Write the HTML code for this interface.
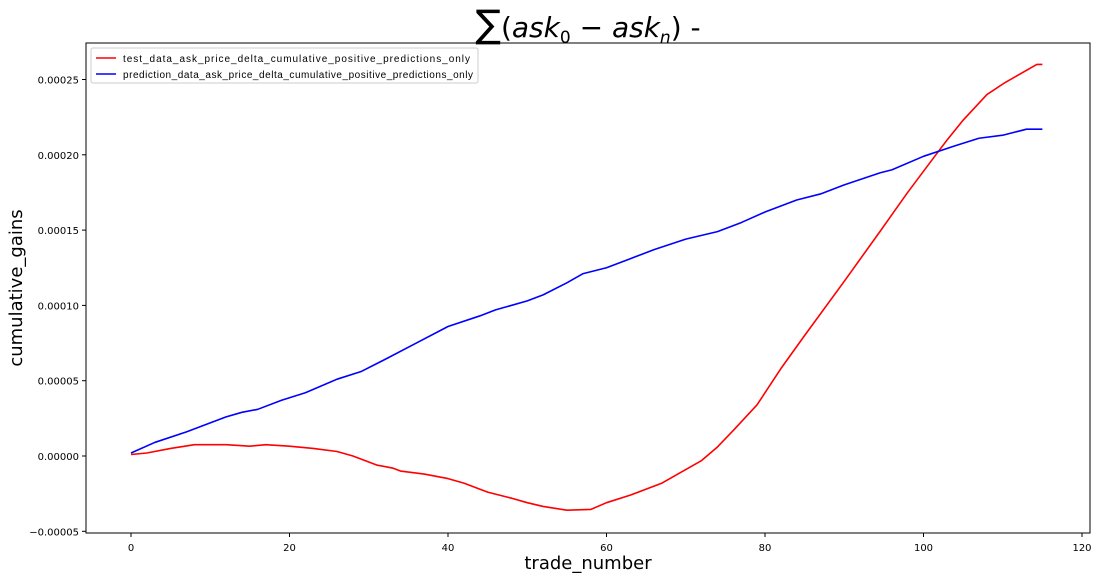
<!DOCTYPE html>
<html><head><meta charset="utf-8"><style>
body{margin:0;background:#fff;}
svg{display:block;font-family:"DejaVu Sans","Liberation Sans",sans-serif;}
</style></head><body>
<svg id="chart" width="1100" height="579">
<text x="588" y="37" font-size="28" text-anchor="middle"><tspan font-size="38">∑</tspan>(<tspan font-style="italic">ask</tspan><tspan font-size="17" dy="6">0</tspan><tspan dy="-6"> − </tspan><tspan font-style="italic">ask</tspan><tspan font-size="17" dy="6" font-style="italic">n</tspan><tspan dy="-6">) -</tspan></text>
<g id="grid"></g>
<rect x="86" y="43" width="1004" height="490" fill="none" stroke="#000" stroke-width="1"/>
<g id="marks"></g>
<g>
<rect x="91" y="48" width="387" height="35" fill="#fff" stroke="#ccc" rx="2"/>
<line x1="96" y1="58" x2="116" y2="58" stroke="red" stroke-width="1.5"/>
<text x="123" y="62" font-size="10" font-family="Liberation Sans, sans-serif" textLength="347">test_data_ask_price_delta_cumulative_positive_predictions_only</text>
<line x1="96" y1="74" x2="116" y2="74" stroke="blue" stroke-width="1.5"/>
<text x="123" y="78" font-size="10" font-family="Liberation Sans, sans-serif" textLength="350">prediction_data_ask_price_delta_cumulative_positive_predictions_only</text>
</g>
<text x="588" y="569" font-size="18" text-anchor="middle">trade_number</text>
<text transform="translate(22,288) rotate(-90)" font-size="18" text-anchor="middle">cumulative_gains</text>
</svg>
<script>
const xTicks=[0,20,40,60,80,100,120];
const yTicks=[-0.00005,0,0.00005,0.0001,0.00015,0.0002,0.00025];
const yTickLabels=["−0.00005","0.00000","0.00005","0.00010","0.00015","0.00020","0.00025"];
const redX=[0,2,5,8,12,15,17,20,23,26,28,31,33,34,37,40,42,45,48,50,52,55,58,60,63,66,67,72,74,76,79,82,85,90,94.5,98,101.7,103,105,108,110.3,114.3,115];
const redY=[0.1,0.2,0.5,0.75,0.75,0.65,0.75,0.65,0.5,0.3,0,-0.6,-0.8,-1.0,-1.2,-1.5,-1.8,-2.4,-2.8,-3.1,-3.35,-3.6,-3.55,-3.1,-2.6,-2.0,-1.8,-0.3,0.6,1.7,3.4,5.8,8.0,11.6,14.9,17.5,20.1,21.0,22.3,24.0,24.8,26.0,26.0];
const blueX=[0,3,7,9,12,14,16,19,22,26,29,32,36,40,44,46,50,52,55,57,60,63,66,70,74,77,80,84,87,90,94.5,96,100,104,107,110,113,115];
const blueY=[0.2,0.9,1.6,2.0,2.6,2.9,3.1,3.7,4.2,5.1,5.6,6.4,7.5,8.6,9.3,9.7,10.3,10.7,11.5,12.1,12.5,13.1,13.7,14.4,14.9,15.5,16.2,17.0,17.4,18.0,18.8,19.0,19.9,20.6,21.1,21.3,21.7,21.7];
const NS="http://www.w3.org/2000/svg";
const xs=v=>131+v*7.925;
const yr=v=>456-v/0.00005*75.3;
const g=document.getElementById('grid'),m=document.getElementById('marks');
function el(t,a,p){const e=document.createElementNS(NS,t);for(const k in a)e.setAttribute(k,a[k]);p.appendChild(e);return e;}
xTicks.forEach(t=>{
 const x=xs(t);
 const l=el('line',{x1:x,x2:x,y1:533,y2:537,stroke:'#000'},g);
 
 
 const tx=el('text',{x:x,y:551,'font-size':10,'text-anchor':'middle'},g);tx.textContent=t;
 
 
});
yTicks.forEach((t,i)=>{
 const y=yr(t);
 const l=el('line',{x1:82,x2:86,y1:y,y2:y,stroke:'#000'},g);
 
 
 const tx=el('text',{x:79,y:y+4,'font-size':10,'text-anchor':'end'},g);tx.textContent=yTickLabels[i];
 
 
});
function line(X,Y,c,name){
 const pts=X.map((x,i)=>xs(x)+','+yr(Y[i]*1e-5)).join(' ');
 const p=el('polyline',{points:pts,fill:'none',stroke:c,'stroke-width':1.6,'stroke-linejoin':'round'},m);
 
 
}
line(redX,redY,'red','test-data-line');
line(blueX,blueY,'blue','prediction-data-line');
</script>
</body></html>
